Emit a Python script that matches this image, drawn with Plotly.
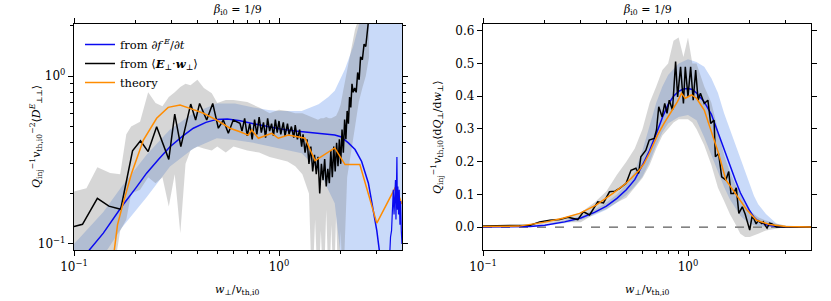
import plotly.graph_objects as go

# ---------------- data: left panel (log-log) ----------------
w_blue_L = [0.1, 0.117, 0.139, 0.171, 0.2, 0.226, 0.26, 0.294, 0.34, 0.382, 0.44, 0.497, 0.56, 0.646, 0.75,
            0.9, 1.0, 1.2, 1.4, 1.6, 1.87, 2.0, 2.18, 2.35, 2.53, 2.73, 2.89, 3.0, 3.11, 3.2]
y_blue_L = [0.075, 0.09, 0.116, 0.167, 0.215, 0.264, 0.322, 0.379, 0.44, 0.489, 0.53, 0.552, 0.555, 0.542, 0.52,
            0.495, 0.485, 0.47, 0.462, 0.455, 0.445, 0.435, 0.40, 0.365, 0.31, 0.23, 0.16, 0.12, 0.085, 0.06]

w_blue_noise = [3.42, 3.46, 3.5, 3.54, 3.58, 3.61, 3.64, 3.67, 3.7, 3.72, 3.74, 3.76, 3.78, 3.8, 3.83, 3.86, 3.89, 3.92, 3.95, 3.98]
y_blue_noise = [0.06, 0.085, 0.11, 0.12, 0.17, 0.21, 0.15, 0.19, 0.24, 0.14, 0.2, 0.33, 0.16, 0.22, 0.15, 0.21, 0.13, 0.18, 0.12, 0.1]

w_bband_L = [0.1, 0.139, 0.171, 0.211, 0.226, 0.294, 0.382, 0.497, 0.609, 0.75, 0.887, 1.0, 1.29, 1.56, 1.74,
             1.87, 2.1, 2.3, 2.5, 2.7, 3.0, 4.0]
up_bband_L = [0.1, 0.155, 0.22, 0.309, 0.34, 0.48, 0.6, 0.687, 0.687, 0.65, 0.628, 0.62, 0.62, 0.68, 0.75,
              0.818, 1.1, 1.5, 2.2, 2.2, 2.2, 2.2]
lo_bband_L = [0.055, 0.085, 0.125, 0.171, 0.19, 0.289, 0.37, 0.426, 0.416, 0.4, 0.38, 0.37, 0.347, 0.276, 0.21,
              0.175, 0.05, 0.05, 0.05, 0.05, 0.05, 0.05]

w_black_L = [0.1, 0.11, 0.13, 0.148, 0.169, 0.193, 0.211, 0.23, 0.253, 0.29, 0.31, 0.332, 0.371, 0.392, 0.41,
             0.444, 0.475, 0.506, 0.535, 0.566, 0.598, 0.645, 0.66, 0.68, 0.70, 0.72, 0.74, 0.76, 0.78, 0.80,
             0.82, 0.84, 0.86, 0.88, 0.90, 0.92, 0.94, 0.96, 0.98, 1.00, 1.02, 1.05, 1.07, 1.10, 1.12,
             1.15, 1.18, 1.20, 1.23, 1.26, 1.29, 1.31, 1.34, 1.37, 1.40, 1.43, 1.46, 1.49, 1.52, 1.55,
             1.58, 1.61, 1.64, 1.67, 1.70, 1.73, 1.76, 1.79, 1.82, 1.85, 1.88, 1.91, 1.94, 1.97, 2.00,
             2.03, 2.06, 2.09, 2.12, 2.15, 2.18, 2.21, 2.24, 2.27, 2.30, 2.34, 2.38, 2.42, 2.46, 2.50,
             2.55, 2.60, 2.65, 2.70, 2.75]
y_black_L = [0.127, 0.131, 0.187, 0.168, 0.161, 0.359, 0.412, 0.355, 0.499, 0.319, 0.594, 0.38, 0.681, 0.547, 0.687,
             0.547, 0.687, 0.489, 0.547, 0.456, 0.547, 0.523, 0.47, 0.56, 0.44, 0.52, 0.42, 0.55, 0.45, 0.57,
             0.46, 0.53, 0.43, 0.56, 0.47, 0.52, 0.44, 0.55, 0.46, 0.54, 0.45, 0.53, 0.44, 0.52, 0.45,
             0.50, 0.43, 0.51, 0.42, 0.48, 0.38, 0.45, 0.35, 0.42, 0.30, 0.38, 0.27, 0.34, 0.26, 0.33,
             0.20, 0.30, 0.24, 0.32, 0.22, 0.28, 0.23, 0.36, 0.25, 0.38, 0.27, 0.40, 0.29, 0.42, 0.30,
             0.48, 0.35, 0.55, 0.42, 0.62, 0.52, 0.75, 0.65, 0.9, 0.8, 0.85, 0.8, 1.05, 0.95, 1.3,
             1.25, 1.55, 1.5, 1.9, 2.3]

w_gband_L = [0.1, 0.115, 0.13, 0.15, 0.168, 0.18, 0.19, 0.21, 0.23, 0.25, 0.27, 0.29, 0.31, 0.33, 0.35,
             0.37, 0.4, 0.43, 0.47, 0.5, 0.55, 0.6, 0.7, 0.8, 0.9, 1.0, 1.1, 1.2, 1.3, 1.4,
             1.45, 1.5, 1.55, 1.6, 1.65, 1.7, 1.75, 1.8, 1.85, 1.9, 1.95, 2.0, 2.05, 2.15, 2.25,
             2.35, 2.45, 2.55, 2.65, 2.75]
up_gband_L = [0.205, 0.215, 0.286, 0.265, 0.26, 0.45, 0.5, 0.535, 0.8, 0.69, 0.66, 0.75, 0.8, 0.86, 0.9,
              0.88, 0.95, 0.85, 0.79, 0.69, 0.72, 0.72, 0.7, 0.65, 0.6, 0.63, 0.62, 0.6, 0.6, 0.58,
              0.57, 0.56, 0.55, 0.56, 0.56, 0.57, 0.56, 0.56, 0.57, 0.58, 0.62, 0.68, 0.8, 1.1, 1.5,
              1.9, 2.2, 2.2, 2.2, 2.2]
lo_gband_L = [0.05, 0.05, 0.05, 0.05, 0.12, 0.14, 0.2, 0.21, 0.25, 0.23, 0.25, 0.167, 0.26, 0.116, 0.3,
              0.36, 0.38, 0.37, 0.36, 0.38, 0.35, 0.38, 0.36, 0.35, 0.33, 0.32, 0.31, 0.29, 0.26, 0.2,
              0.05, 0.14, 0.05, 0.12, 0.05, 0.16, 0.05, 0.13, 0.05, 0.15, 0.05, 0.12, 0.05, 0.25, 0.35,
              0.5, 0.7, 0.85, 1.0, 1.3]

w_theory_L = [0.156, 0.163, 0.171, 0.191, 0.218, 0.253, 0.288, 0.329, 0.368, 0.428, 0.497, 0.577, 0.645, 0.708,
              0.736, 0.793, 0.921, 0.993, 1.11, 1.24, 1.34, 1.5, 1.87, 2.1, 2.48, 3.0, 3.7, 3.98]
y_theory_L = [0.085, 0.13, 0.163, 0.264, 0.416, 0.56, 0.651, 0.672, 0.642, 0.6, 0.547, 0.489, 0.466, 0.445,
              0.477, 0.426, 0.456, 0.426, 0.445, 0.435, 0.426, 0.313, 0.373, 0.297, 0.297, 0.133, 0.218, 0.173]

# ---------------- data: right panel (log-linear) ----------------
w_blue_R = [0.1, 0.15, 0.17, 0.2, 0.25, 0.3, 0.35, 0.4, 0.45, 0.5, 0.55, 0.6, 0.65, 0.7, 0.75, 0.8, 0.85, 0.9,
            0.95, 1.0, 1.05, 1.1, 1.2, 1.3, 1.4, 1.5, 1.6, 1.7, 1.8, 1.9, 2.0, 2.1, 2.2, 2.4, 2.7, 3.0, 4.0]
y_blue_R = [0.0, 0.001, 0.002, 0.006, 0.016, 0.028, 0.045, 0.064, 0.088, 0.114, 0.145, 0.19, 0.235, 0.285, 0.335,
            0.375, 0.4, 0.415, 0.422, 0.424, 0.421, 0.41, 0.383, 0.345, 0.29, 0.235, 0.185, 0.145, 0.105, 0.075,
            0.05, 0.03, 0.018, 0.007, 0.002, 0.0, 0.0]

w_bband_R = [0.1, 0.17, 0.2, 0.25, 0.3, 0.35, 0.4, 0.45, 0.5, 0.55, 0.6, 0.65, 0.7, 0.75, 0.8, 0.9, 1.0, 1.1,
             1.2, 1.3, 1.4, 1.5, 1.6, 1.7, 1.8, 1.9, 2.0, 2.1, 2.2, 2.4, 2.7, 3.0, 4.0]
up_bband_R = [0.0, 0.003, 0.008, 0.02, 0.034, 0.053, 0.075, 0.1, 0.13, 0.17, 0.235, 0.31, 0.38, 0.43, 0.465, 0.5,
              0.513, 0.505, 0.49, 0.455, 0.41, 0.348, 0.3, 0.255, 0.21, 0.17, 0.13, 0.095, 0.07, 0.04, 0.011,
              0.003, 0.0]
lo_bband_R = [0.0, 0.001, 0.004, 0.012, 0.022, 0.037, 0.053, 0.075, 0.098, 0.125, 0.155, 0.2, 0.25, 0.29, 0.317,
              0.337, 0.343, 0.327, 0.275, 0.225, 0.17, 0.123, 0.085, 0.06, 0.035, 0.021, 0.012, 0.006, 0.003,
              0.001, 0.0, 0.0, 0.0]

w_black_R = [0.1, 0.15, 0.17, 0.189, 0.212, 0.237, 0.26, 0.29, 0.309, 0.331, 0.363, 0.387, 0.414, 0.44, 0.463,
             0.499, 0.527, 0.557, 0.574, 0.589, 0.623, 0.647, 0.684, 0.702, 0.72, 0.748, 0.77, 0.79, 0.81, 0.84,
             0.87, 0.89, 0.92, 0.95, 0.97, 1.0, 1.03, 1.06, 1.09, 1.12, 1.15, 1.2, 1.25, 1.29, 1.34,
             1.36, 1.41, 1.46, 1.53, 1.58, 1.62, 1.67, 1.72, 1.77, 1.84, 1.9, 1.94, 2.0, 2.05, 2.09,
             2.15, 2.2, 2.29, 2.33, 2.38, 2.43, 2.5, 2.57, 2.7, 3.0, 4.0]
y_black_R = [0.003, 0.004, 0.006, 0.016, 0.021, 0.023, 0.03, 0.023, 0.047, 0.037, 0.077, 0.074, 0.108, 0.11, 0.118,
             0.134, 0.174, 0.18, 0.164, 0.215, 0.235, 0.266, 0.271, 0.297, 0.368, 0.337, 0.378, 0.348, 0.388, 0.358,
             0.506, 0.398, 0.49, 0.378, 0.49, 0.398, 0.49, 0.388, 0.48, 0.388, 0.409, 0.378, 0.388, 0.317, 0.327,
             0.215, 0.225, 0.154, 0.144, 0.17, 0.103, 0.103, 0.12, 0.042, 0.062, 0.04, 0.021, -0.009, 0.03, 0.027,
             0.01, 0.02, 0.011, 0.016, 0.005, -0.003, 0.012, 0.01, 0.0, 0.0, 0.0]

w_gband_R = [0.1, 0.17, 0.2, 0.25, 0.3, 0.35, 0.4, 0.45, 0.5, 0.55, 0.6, 0.65, 0.7, 0.75, 0.8, 0.85, 0.9, 0.95,
             1.0, 1.05, 1.1, 1.2, 1.3, 1.4, 1.5, 1.6, 1.7, 1.8, 1.9, 2.0, 2.2, 2.4, 2.7, 3.0, 4.0]
up_gband_R = [0.002, 0.004, 0.02, 0.03, 0.045, 0.075, 0.11, 0.16, 0.2, 0.24, 0.3, 0.38, 0.43, 0.48, 0.5, 0.57,
              0.58, 0.52, 0.58, 0.5, 0.5, 0.43, 0.38, 0.3, 0.22, 0.17, 0.13, 0.1, 0.07, 0.05, 0.03, 0.02, 0.01,
              0.005, 0.002]
lo_gband_R = [0.0, 0.0, 0.01, 0.015, 0.015, 0.04, 0.055, 0.075, 0.09, 0.12, 0.15, 0.19, 0.24, 0.28, 0.3, 0.32,
              0.33, 0.33, 0.33, 0.32, 0.3, 0.25, 0.19, 0.12, 0.08, 0.04, 0.01, -0.02, -0.03, -0.03, -0.02, -0.01,
              -0.005, 0.0, 0.0]

w_theory_R = [0.1, 0.15, 0.204, 0.245, 0.296, 0.356, 0.43, 0.499, 0.578, 0.611, 0.647, 0.71, 0.764, 0.84, 0.887,
              0.93, 0.97, 1.04, 1.1, 1.2, 1.29, 1.41, 1.53, 1.74, 1.94, 2.16, 2.5, 3.0, 4.0]
y_theory_R = [0.002, 0.003, 0.016, 0.027, 0.042, 0.067, 0.103, 0.134, 0.174, 0.195, 0.225, 0.281, 0.317, 0.358,
              0.383, 0.409, 0.394, 0.404, 0.394, 0.358, 0.297, 0.225, 0.144, 0.093, 0.052, 0.021, 0.008, 0.002, 0.0]

# tick labels
x_tickvals = [0.1, 1.0]
x_ticktext = ["10<sup>−1</sup>", "10<sup>0</sup>"]
x_minor = [0.2, 0.3, 0.4, 0.5, 0.6, 0.7, 0.8, 0.9, 2, 3, 4]
yL_tickvals = [0.1, 1.0]
yL_ticktext = ["10<sup>−1</sup>", "10<sup>0</sup>"]
yL_minor = [0.2, 0.3, 0.4, 0.5, 0.6, 0.7, 0.8, 0.9, 2]
yR_tickvals = [0.0, 0.1, 0.2, 0.3, 0.4, 0.5, 0.6]
yR_ticktext = ["0.0", "0.1", "0.2", "0.3", "0.4", "0.5", "0.6"]

FONT = "'DejaVu Serif', 'Liberation Serif', serif"
BLUE = "#0a0af0"
ORANGE = "#ff8c00"
BBAND = "rgba(100,149,237,0.35)"
GBAND = "rgba(128,128,128,0.32)"


def band(w, up, lo, color, xa, ya):
    return go.Scatter(x=list(w) + list(w)[::-1], y=list(up) + list(lo)[::-1], fill="toself",
                      fillcolor=color, line=dict(width=0), mode="lines", hoverinfo="skip",
                      showlegend=False, xaxis=xa, yaxis=ya)


fig = go.Figure()
# left panel
fig.add_trace(band(w_bband_L, up_bband_L, lo_bband_L, BBAND, "x", "y"))
fig.add_trace(band(w_gband_L, up_gband_L, lo_gband_L, GBAND, "x", "y"))
fig.add_trace(go.Scatter(x=w_blue_L, y=y_blue_L, mode="lines", line=dict(color=BLUE, width=1.5),
                         name="from ∂<i>f</i><sup> <i>E</i></sup>/∂<i>t</i>", xaxis="x", yaxis="y"))
fig.add_trace(go.Scatter(x=w_black_L, y=y_black_L, mode="lines", line=dict(color="black", width=1.5),
                         name="from ⟨<b><i>E</i></b><sub>⊥</sub>·<b><i>w</i></b><sub>⊥</sub>⟩", xaxis="x", yaxis="y"))
fig.add_trace(go.Scatter(x=w_theory_L, y=y_theory_L, mode="lines", line=dict(color=ORANGE, width=1.5),
                         name="theory", xaxis="x", yaxis="y"))
fig.add_trace(go.Scatter(x=w_blue_noise, y=y_blue_noise, mode="lines", line=dict(color=BLUE, width=1.2),
                         showlegend=False, xaxis="x", yaxis="y"))
# right panel
fig.add_trace(band(w_bband_R, up_bband_R, lo_bband_R, BBAND, "x2", "y2"))
fig.add_trace(band(w_gband_R, up_gband_R, lo_gband_R, GBAND, "x2", "y2"))
fig.add_trace(go.Scatter(x=w_blue_R, y=y_blue_R, mode="lines", line=dict(color=BLUE, width=1.5),
                         showlegend=False, xaxis="x2", yaxis="y2"))
fig.add_trace(go.Scatter(x=w_black_R, y=y_black_R, mode="lines", line=dict(color="black", width=1.5),
                         showlegend=False, xaxis="x2", yaxis="y2"))
fig.add_trace(go.Scatter(x=w_theory_R, y=y_theory_R, mode="lines", line=dict(color=ORANGE, width=1.5),
                         showlegend=False, xaxis="x2", yaxis="y2"))

W, H = 831, 301
xdomL = [74 / W, 402 / W]
xdomR = [483 / W, 811 / W]
ydom = [1 - 250 / H, 1 - 24 / H]

axis_common = dict(showline=True, linecolor="black", linewidth=1.3, mirror="allticks", ticks="outside",
                   ticklen=5, tickwidth=1.2, tickcolor="black", showgrid=False, zeroline=False,
                   tickfont=dict(family=FONT, size=12, color="black"), automargin=False)
minor_common = dict(ticks="outside", ticklen=3, tickwidth=0.9, tickcolor="black", showgrid=False)

fig.update_layout(
    width=W, height=H, margin=dict(l=0, r=0, t=0, b=0), autosize=False,
    plot_bgcolor="white", paper_bgcolor="white",
    font=dict(family=FONT, color="black"),
    xaxis=dict(type="log", range=[-1, 0.6], domain=xdomL, anchor="y", tickvals=x_tickvals,
               ticktext=x_ticktext, minor=dict(tickvals=x_minor, **minor_common), **axis_common),
    yaxis=dict(type="log", range=[-1.036, 0.31], domain=ydom, anchor="x", tickvals=yL_tickvals,
               ticktext=yL_ticktext, minor=dict(tickvals=yL_minor, **minor_common), **axis_common),
    xaxis2=dict(type="log", range=[-1, 0.6], domain=xdomR, anchor="y2", tickvals=x_tickvals,
                ticktext=x_ticktext, minor=dict(tickvals=x_minor, **minor_common), **axis_common),
    yaxis2=dict(range=[-0.07, 0.621], domain=ydom, anchor="x2", tickvals=yR_tickvals,
                ticktext=yR_ticktext, **axis_common),
    legend=dict(x=80 / W, y=1 - 30 / H, xanchor="left", yanchor="top", bgcolor="rgba(0,0,0,0)",
                font=dict(family=FONT, size=11.5, color="black"), tracegroupgap=0, itemwidth=30),
    showlegend=True,
)

fig.add_shape(type="line", xref="x2 domain", yref="y2", x0=0, x1=1, y0=0, y1=0,
              line=dict(color="#333333", width=1, dash="dash"), layer="below")

ann = []
for cx in [(xdomL[0] + xdomL[1]) / 2, (xdomR[0] + xdomR[1]) / 2]:
    ann.append(dict(text="<i>β</i><sub>i0</sub> = 1/9", x=cx, y=1 - 10 / H, xref="paper", yref="paper",
                    showarrow=False, font=dict(family=FONT, size=11), xanchor="center", yanchor="middle"))
    ann.append(dict(text="<i>w</i><sub>⊥</sub>/<i>v</i><sub>th,i0</sub>", x=cx, y=1 - 290 / H, xref="paper",
                    yref="paper", showarrow=False, font=dict(family=FONT, size=11),
                    xanchor="center", yanchor="middle"))
ycen = 1 - 137 / H
ann.append(dict(text="<i>Q</i><sub>inj</sub><sup>−1</sup><i>v</i><sub>th,i0</sub><sup>−2</sup>⟨<i>D</i><sup><i>E</i></sup><sub>⊥⊥</sub>⟩",
                x=36 / W, y=ycen, xref="paper", yref="paper", showarrow=False, textangle=-90,
                font=dict(family=FONT, size=11), xanchor="center", yanchor="middle"))
ann.append(dict(text="<i>Q</i><sub>inj</sub><sup>−1</sup><i>v</i><sub>th,i0</sub>⟨d<i>Q</i><sub>⊥</sub>/d<i>w</i><sub>⊥</sub>⟩",
                x=437 / W, y=ycen, xref="paper", yref="paper", showarrow=False, textangle=-90,
                font=dict(family=FONT, size=11), xanchor="center", yanchor="middle"))
fig.update_layout(annotations=ann)

fig.write_html("out.html", config={"displayModeBar": False},
               post_script="document.body.style.margin='0px';document.body.style.overflow='hidden';")
